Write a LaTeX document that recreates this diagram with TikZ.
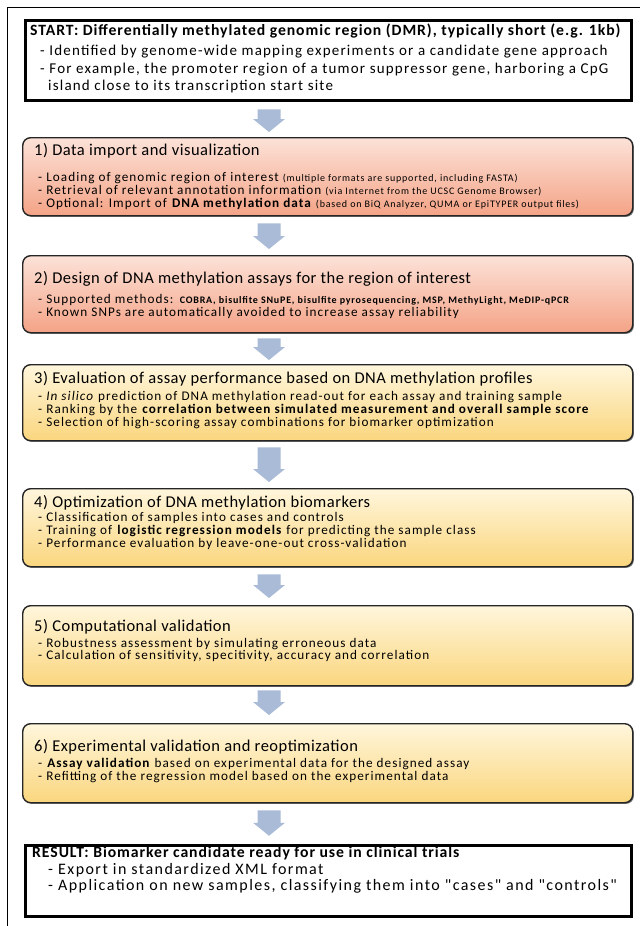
\documentclass[tikz,border=0pt]{standalone}
\usepackage{fontspec}
\setmainfont{Carlito}
\newfontfamily\bulf{Carlito}[LetterSpace=8]
\newfontfamily\resf{Carlito}[LetterSpace=9]
\newfontfamily\headf{Carlito}[LetterSpace=6]
\newfontfamily\titf{Carlito}[LetterSpace=3]
\usetikzlibrary{calc,shadows}
\definecolor{arrowblue}{HTML}{A9BBD7}
\definecolor{redtop}{HTML}{FCE2D8}
\definecolor{redbot}{HTML}{F4A386}
\definecolor{yeltop}{HTML}{FFF6DC}
\definecolor{yelbot}{HTML}{FAD67E}
\newcommand\blockarr[2]{\fill[arrowblue] let \p1=(#1), \p2=(#2) in
  (\x1-11.5pt,\y1) -- (\x1+11.5pt,\y1) -- (\x1+11.5pt,\y2+13pt) -- (\x1+16pt,\y2+13pt)
  -- (\x1,\y2) -- (\x1-16pt,\y2+13pt) -- (\x1-11.5pt,\y2+13pt) -- cycle;}
\newcommand\sm[1]{{\fontsize{10}{12}\selectfont #1}}
\begin{document}
\begin{tikzpicture}[x=1pt,y=-1pt,
  endbox/.style={draw=black, line width=3.5pt, fill=white, anchor=north west, inner sep=0pt,
    minimum width=606pt, drop shadow={shadow xshift=1.5pt, shadow yshift=-1.5pt, fill=black!60, opacity=1}},
  redbox/.style={draw=black!85, line width=1.4pt, rounded corners=8pt, top color=redtop, bottom color=redbot,
    anchor=north west, inner sep=0pt, minimum width=610pt,
    drop shadow={shadow xshift=1.2pt, shadow yshift=-1.2pt, fill=black!55, opacity=1}},
  yelbox/.style={redbox, top color=yeltop, bottom color=yelbot},
  ln/.style={anchor=base west, inner sep=0pt},
  head/.style={ln, font=\headf\bfseries\fontsize{15.7}{19}\selectfont},
  bigbul/.style={ln, font=\bulf\fontsize{15}{18}\selectfont},
  resbul/.style={ln, font=\resf\fontsize{16}{18}\selectfont},
  title/.style={ln, font=\titf\fontsize{16.5}{19}\selectfont},
  bul/.style={ln, font=\bulf\fontsize{13.2}{15}\selectfont}]
\useasboundingbox (0,0) rectangle (640,926);
\fill[white] (0,0) rectangle (640,926);
\draw[line width=0.9pt] (7,926) -- (7,7) -- (640,7);
\coordinate (ax) at (269,0);

% boxes
\node[endbox, minimum height=80pt] (s) at (23.75,18.75) {};
\node[redbox, minimum height=78pt] (b1) at (22,137) {};
\node[redbox, minimum height=77pt] (b2) at (22,255) {};
\node[yelbox, minimum height=76pt] (b3) at (22,364) {};
\node[yelbox, minimum height=78pt] (b4) at (22,488) {};
\node[yelbox, minimum height=80pt] (b5) at (22,605) {};
\node[yelbox, minimum height=79pt] (b6) at (22,723) {};
\node[endbox, minimum height=71pt] (r) at (23.75,843.75) {};

% arrows
\blockarr{$(s.south -| ax)+(0,7)$}{$(b1.north -| ax)+(0,-5)$}
\blockarr{$(b1.south -| ax)+(0,7)$}{$(b2.north -| ax)+(0,-6)$}
\blockarr{$(b2.south -| ax)+(0,5)$}{$(b3.north -| ax)+(0,-4)$}
\blockarr{$(b3.south -| ax)+(0,6)$}{$(b4.north -| ax)+(0,-6)$}
\blockarr{$(b4.south -| ax)+(0,7)$}{$(b5.north -| ax)+(0,-7)$}
\blockarr{$(b5.south -| ax)+(0,4)$}{$(b6.north -| ax)+(0,-8)$}
\blockarr{$(b6.south -| ax)+(0,7)$}{$(r.north -| ax)+(0,-8)$}

% START
\node[head] (s0) at (30,35) {START: Differentially methylated genomic region (DMR), typically short (e.g. 1kb)};
\node[bigbul] (s1) at (40,55) {- Identified by genome-wide mapping experiments or a candidate gene approach};
\node[bigbul] (s2) at (40,73) {- For example, the promoter region of a tumor suppressor gene, harboring a CpG};
\node[bigbul] (s3) at (48,90) {island close to its transcription start site};
% 1
\node[title] (t1) at (34,155) {1) Data import and visualization};
\node[bul] (t1a) at (38,181.5) {- Loading of genomic region of interest \sm{(multiple formats are supported, including FASTA)}};
\node[bul] (t1b) at (38,194.5) {- Retrieval of relevant annotation information \sm{(via Internet from the UCSC Genome Browser)}};
\node[bul] (t1c) at (38,207.5) {- Optional: Import of \textbf{DNA methylation data} \sm{(based on BiQ Analyzer, QUMA or EpiTYPER output files)}};
% 2
\node[title] (t2) at (34,283) {2) Design of DNA methylation assays for the region of interest};
\node[bul] (t2a) at (38,303) {- Supported methods: \sm{\textbf{COBRA, bisulfite SNuPE, bisulfite pyrosequencing, MSP, MethyLight, MeDIP-qPCR}}};
\node[bul] (t2b) at (38,316) {- Known SNPs are automatically avoided to increase assay reliability};
% 3
\node[title] (t3) at (34,383) {3) Evaluation of assay performance based on DNA methylation profiles};
\node[bul] (t3a) at (38,400) {- \textit{In silico} prediction of DNA methylation read-out for each assay and training sample};
\node[bul] (t3b) at (38,413) {- Ranking by the \textbf{correlation between simulated measurement and overall sample score}};
\node[bul] (t3c) at (38,426) {- Selection of high-scoring assay combinations for biomarker optimization};
% 4
\node[title] (t4) at (34,507) {4) Optimization of DNA methylation biomarkers};
\node[bul] (t4a) at (38,521) {- Classification of samples into cases and controls};
\node[bul] (t4b) at (38,534) {- Training of \textbf{logistic regression models} for predicting the sample class};
\node[bul] (t4c) at (38,547) {- Performance evaluation by leave-one-out cross-validation};
% 5
\node[title] (t5) at (34,631) {5) Computational validation};
\node[bul] (t5a) at (38,647) {- Robustness assessment by simulating erroneous data};
\node[bul] (t5b) at (38,659) {- Calculation of sensitivity, specitivity, accuracy and correlation};
% 6
\node[title] (t6) at (34,751) {6) Experimental validation and reoptimization};
\node[bul] (t6a) at (38,767) {- \textbf{Assay validation} based on experimental data for the designed assay};
\node[bul] (t6b) at (38,780) {- Refitting of the regression model based on the experimental data};
% RESULT
\node[head] (r0) at (32,857) {RESULT: Biomarker candidate ready for use in clinical trials};
\node[resbul] (r1) at (48,874) {- Export in standardized XML format};
\node[resbul] (r2) at (48,890) {- Application on new samples, classifying them into "cases" and "controls"};
\end{tikzpicture}
\end{document}
